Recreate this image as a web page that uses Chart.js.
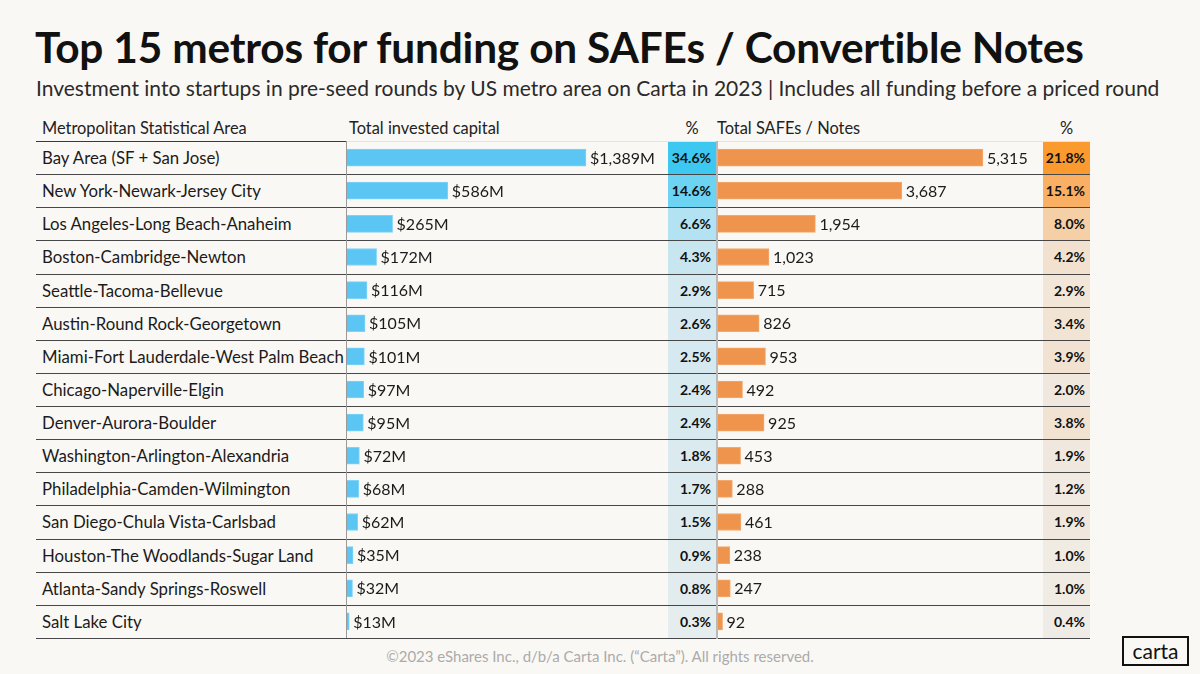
<!DOCTYPE html>
<html><head><meta charset="utf-8">
<script src="https://cdn.jsdelivr.net/npm/chart.js@4.4.1/dist/chart.umd.min.js"></script>
<style>
html,body{margin:0;padding:0}
body{background:#faf8f4;width:1200px;height:674px;overflow:hidden;position:relative;font-family:Lato,"DejaVu Sans",sans-serif;color:#1b1b1b}
.abs{position:absolute;white-space:nowrap}
#title{left:35px;top:21px;font-size:42.4px;font-weight:700;color:#111;letter-spacing:-0.2px}
#subtitle{left:36px;top:75px;font-size:21px;color:#2a2a2a}
.hdr{top:118px;font-size:16.4px;color:#222}
.lab{left:42px;font-size:16.8px;color:#1b1b1b;line-height:33px}
.pct{font-size:14px;font-weight:700;text-align:right;box-sizing:border-box;padding-right:5px;color:#111}
.hl{height:1px;background:#474747}
#footer{left:0;width:1200px;top:647px;text-align:center;font-size:15px;color:#ababab}
#logo{left:1122px;top:636px;width:63px;height:26px;border:2px solid #111;text-align:center;font-size:21px;line-height:25px;color:#111}
canvas{position:absolute}
</style></head><body>
<div id="title" class="abs">Top 15 metros for funding on SAFEs / Convertible Notes</div>
<div id="subtitle" class="abs">Investment into startups in pre-seed rounds by US metro area on Carta in 2023 | Includes all funding before a priced round</div>
<div class="abs hdr" style="left:42px">Metropolitan Statistical Area</div>
<div class="abs hdr" style="left:349px">Total invested capital</div>
<div class="abs hdr" style="left:668px;width:48px;text-align:center">%</div>
<div class="abs hdr" style="left:717px">Total SAFEs / Notes</div>
<div class="abs hdr" style="left:1043px;width:47px;text-align:center">%</div>
<div id="rows"></div>
<canvas id="blue"></canvas>
<canvas id="orange"></canvas>
<div id="footer" class="abs">©2023 eShares Inc., d/b/a Carta Inc. (“Carta”). All rights reserved.</div>
<div id="logo" class="abs">carta</div>
<script>
// ---- data ----
const metros = [
  "Bay Area (SF + San Jose)",
  "New York-Newark-Jersey City",
  "Los Angeles-Long Beach-Anaheim",
  "Boston-Cambridge-Newton",
  "Seattle-Tacoma-Bellevue",
  "Austin-Round Rock-Georgetown",
  "Miami-Fort Lauderdale-West Palm Beach",
  "Chicago-Naperville-Elgin",
  "Denver-Aurora-Boulder",
  "Washington-Arlington-Alexandria",
  "Philadelphia-Camden-Wilmington",
  "San Diego-Chula Vista-Carlsbad",
  "Houston-The Woodlands-Sugar Land",
  "Atlanta-Sandy Springs-Roswell",
  "Salt Lake City"
];
const investedCapital = [1389, 586, 265, 172, 116, 105, 101, 97, 95, 72, 68, 62, 35, 32, 13];
const investedPct = [34.6, 14.6, 6.6, 4.3, 2.9, 2.6, 2.5, 2.4, 2.4, 1.8, 1.7, 1.5, 0.9, 0.8, 0.3];
const safesNotes = [5315, 3687, 1954, 1023, 715, 826, 953, 492, 925, 453, 288, 461, 238, 247, 92];
const safesPct = [21.8, 15.1, 8.0, 4.2, 2.9, 3.4, 3.9, 2.0, 3.8, 1.9, 1.2, 1.9, 1.0, 1.0, 0.4];

// ---- layout / style ----
const TOP = 141, BOTTOM = 638, ROWH = (BOTTOM - TOP) / metros.length;
const blueStops = [[0,[231,237,238]],[0.08,[213,233,240]],[0.125,[200,230,240]],[0.19,[179,226,242]],[0.42,[109,211,242]],[1,[60,200,240]]];
const orangeStops = [[0,[239,237,233]],[0.13,[241,230,217]],[0.19,[241,225,207]],[0.37,[245,207,165]],[0.69,[249,176,101]],[1,[251,154,47]]];
function heat(stops, t){
  for(let i=1;i<stops.length;i++){
    if(t<=stops[i][0]){
      const [a,ca]=stops[i-1],[b,cb]=stops[i];
      const f=(t-a)/(b-a);
      return 'rgb('+ca.map((v,k)=>Math.round(v+(cb[k]-v)*f)).join(',')+')';
    }
  }
  return 'rgb('+stops[stops.length-1][1].join(',')+')';
}
const rows = document.getElementById('rows');
function add(cls, style, text){
  const d=document.createElement('div'); d.className='abs '+cls; d.style.cssText=style; if(text!==undefined) d.textContent=text; rows.appendChild(d); return d;
}
const maxB = Math.max(...investedPct), maxO = Math.max(...safesPct);
metros.forEach((m,i)=>{
  const y = TOP + i*ROWH;
  add('pct', `left:668px;top:${y}px;width:48px;height:${ROWH}px;line-height:${ROWH}px;background:${heat(blueStops, investedPct[i]/maxB)}`, investedPct[i].toFixed(1)+'%');
  add('pct', `left:1043px;top:${y}px;width:47px;height:${ROWH}px;line-height:${ROWH}px;background:${heat(orangeStops, safesPct[i]/maxO)}`, safesPct[i].toFixed(1)+'%');
  add('lab', `top:${y}px;height:${ROWH}px;line-height:${ROWH}px`, m);
});
// horizontal lines
add('hl', `left:36px;top:${TOP}px;width:310px;background:#3a3a3a`);
add('hl', `left:346px;top:${TOP}px;width:744px;background:#e6e3de`);
metros.forEach((m,i)=>{
  add('hl', `left:36px;top:${Math.round(TOP+(i+1)*ROWH)}px;width:1054px`);
});
// vertical lines
add('', `left:346px;top:${TOP}px;width:1px;height:${BOTTOM-TOP}px;background:#9a9a9a`);
add('', `left:716px;top:${TOP}px;width:2px;height:${BOTTOM-TOP+1}px;background:#b9b9b9`);

function setupCanvas(id, left, width){
  const c=document.getElementById(id);
  c.style.left=left+'px'; c.style.top=TOP+'px';
  c.style.width=width+'px'; c.style.height=(BOTTOM-TOP)+'px';
  c.width=width; c.height=BOTTOM-TOP;
  return c;
}
const valueLabels = {
  id:'valueLabels',
  afterDatasetsDraw(chart, args, opts){
    const ctx=chart.ctx;
    const meta=chart.getDatasetMeta(0);
    ctx.save();
    ctx.font='16px Lato, sans-serif';
    ctx.fillStyle='#1b1b1b';
    ctx.textBaseline='middle';
    ctx.textAlign='left';
    meta.data.forEach((bar,i)=>{
      ctx.fillText(opts.fmt(chart.data.datasets[0].data[i]), bar.x+4, bar.y+1);
    });
    ctx.restore();
  }
};
function makeChart(id, left, width, data, color, border, max, fmt){
  const c=setupCanvas(id,left,width);
  return new Chart(c,{
    type:'bar',
    data:{labels:metros,datasets:[{data:data,backgroundColor:color,borderColor:border,borderWidth:1,barThickness:17,borderSkipped:'left'}]},
    options:{
      indexAxis:'y',responsive:false,animation:false,devicePixelRatio:1,
      layout:{padding:0},
      scales:{
        x:{display:false,min:0,max:max},
        y:{display:false,offset:true}
      },
      plugins:{legend:{display:false},tooltip:{enabled:false},valueLabels:{fmt:fmt}}
    },
    plugins:[valueLabels]
  });
}
makeChart('blue', 347, 320, investedCapital, '#5bc6f3', '#7fd3f6', 1860, v=>'$'+v.toLocaleString('en-US')+'M');
makeChart('orange', 718, 324, safesNotes, '#ef944d', '#f3a96e', 6500, v=>v.toLocaleString('en-US'));
</script>
</body></html>
